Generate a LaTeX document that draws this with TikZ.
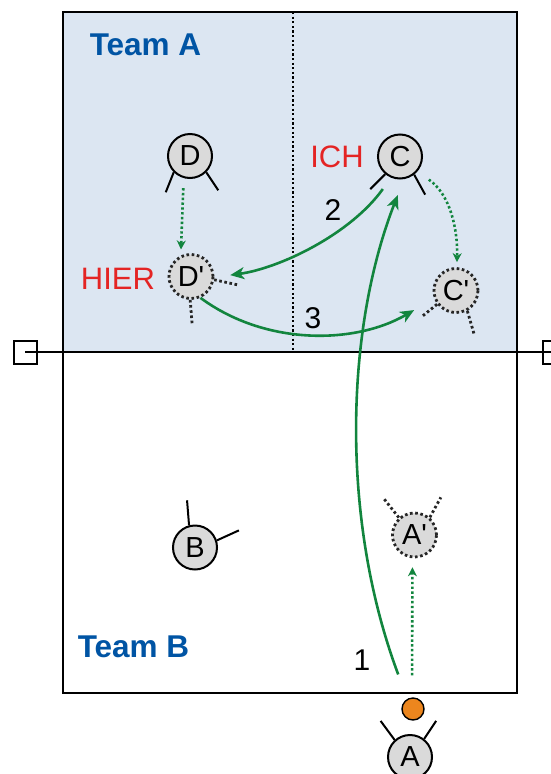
\documentclass[tikz,border=0pt]{standalone}
\usepackage{fontspec}
\setmainfont{Liberation Sans}
\usetikzlibrary{arrows.meta}

\definecolor{courtblue}{RGB}{220,230,242}
\definecolor{passgreen}{RGB}{18,133,62}
\definecolor{teamblue}{RGB}{0,84,164}
\definecolor{callred}{RGB}{228,36,36}
\definecolor{playergray}{RGB}{218,218,218}
\definecolor{ballorange}{RGB}{236,134,30}

\tikzset{
  player/.style={circle,draw,line width=2pt,fill=playergray,minimum size=44pt,
    inner sep=0pt,font=\fontsize{29}{30}\selectfont},
  ghost/.style={player,draw=black!85,line width=2.8pt,dash pattern=on 2.6pt off 2.6pt},
  arm/.style={line width=2pt},
  ghostarm/.style={black!85,line width=2.8pt,dash pattern=on 2.6pt off 2.6pt},
  pass/.style={passgreen,line width=2.6pt,-{Stealth[length=14pt,width=12pt,inset=4pt]}},
  run/.style={passgreen,line width=2.6pt,dash pattern=on 2.4pt off 2.4pt,
    -{Stealth[length=9pt,width=9pt]}},
  teamlabel/.style={teamblue,font=\fontsize{31.5}{33}\selectfont\bfseries},
  calllabel/.style={callred,font=\fontsize{31}{33}\selectfont},
  steplabel/.style={font=\fontsize{30}{32}\selectfont},
}

\begin{document}
\begin{tikzpicture}[x=1pt,y=-1pt]
  \useasboundingbox (0,0) rectangle (551,774);
  %
  % court
  \fill[courtblue] (63,12) rectangle (517,352);
  \draw[line width=2.2pt,dash pattern=on 2.2pt off 2.4pt] (293,12) -- (293,352);
  \draw[line width=2pt] (63,12) rectangle (517,693);
  %
  % net with posts
  \draw[line width=2pt] (25,352) -- (551,352);
  \draw[line width=2pt] (14,341) rectangle (37,364);
  \draw[line width=2pt] (543,341) rectangle (566,364);
  %
  % players
  \node[player] (D)  at (190,156)   {D};
  \node[player] (C)  at (400,156.5) {C};
  \node[player] (B)  at (195,547.5) {B};
  \node[player] (A)  at (410,757)   {A};
  \node[ghost]  (Dp) at (191,276.5) {D\textquotesingle};
  \node[ghost]  (Cp) at (456,290.5) {C\textquotesingle};
  \node[ghost]  (Ap) at (414.5,535) {A\textquotesingle};
  \node[circle,draw,line width=1.4pt,fill=ballorange,minimum size=22pt,inner sep=0pt]
    (ball) at (413,709) {};
  %
  % arms
  \foreach \p/\a/\dx/\dy in {D/-135/-8/20, D/-45/12/18, C/-130/-15/15, C/-52/11/20,
                             B/105/-2/-25, B/18/22/-10, A/132/-14/-19, A/52/12/-18}
    \draw[arm] (\p.\a) -- ++(\dx,\dy);
  \foreach \p/\a/\dx/\dy in {Dp/-8/23/5, Dp/-92/2/25, Cp/-144/-16/13, Cp/-61/7/24,
                             Ap/132/-15/-19, Ap/49/11/-20}
    \draw[ghostarm] (\p.\a) -- ++(\dx,\dy);
  %
  % labels
  \node[teamlabel] (teamA) at (145.5,45) {Team A};
  \node[teamlabel] (teamB) at (133.5,647) {Team B};
  \node[calllabel] (ich)   at (337,157) {ICH};
  \node[calllabel] (hier)  at (118,279) {HIER};
  \node[steplabel] (one)   at (362,660) {1};
  \node[steplabel] (two)   at (333,210) {2};
  \node[steplabel] (three) at (313,318) {3};
  %
  % runs
  \draw[run,shorten <=10pt,shorten >=6pt] (D.-106) -- (Dp.116);
  \draw[run,shorten <=14pt,shorten >=5pt] (C.-41) .. controls +(33,23) and +(1,-38) .. (Cp.88);
  \draw[run,shorten <=22pt,shorten >=9pt] (ball.95) -- (Ap.-95);
  %
  % passes
  \draw[pass,shorten <=26pt,shorten >=17pt] (ball.119) .. controls +(-67,-179) and +(-59,151) .. (C.-80);
  \draw[pass,shorten <=14pt,shorten >=16pt] (C.-113) .. controls +(-41,57) and +(65,-9) .. (Dp.-2);
  \draw[pass,shorten >=23pt] (Dp.-66) .. controls +(65,48) and +(-79,46) .. (Cp.200);
\end{tikzpicture}
\end{document}
